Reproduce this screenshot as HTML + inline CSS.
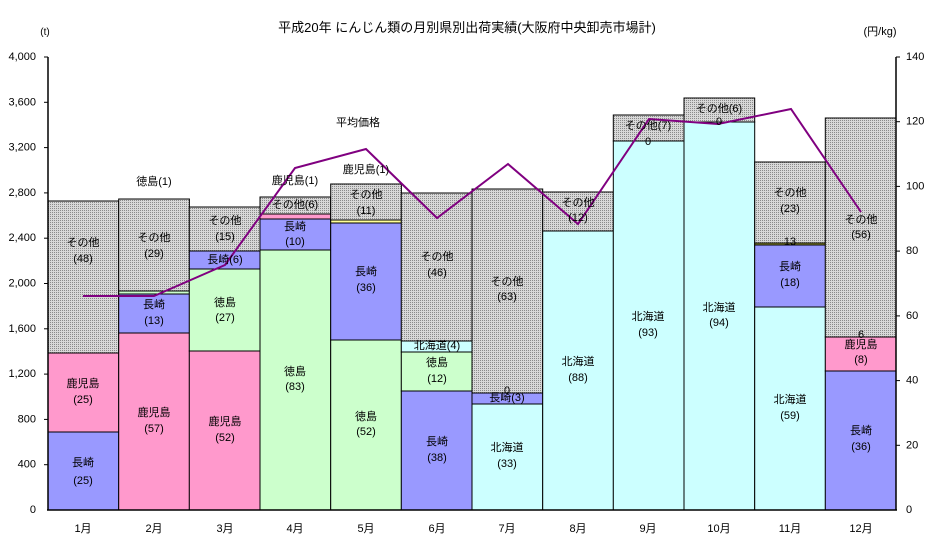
<!DOCTYPE html>
<html><head><meta charset="utf-8"><style>
body{margin:0;background:#fff}
svg{display:block;font-family:"Liberation Sans","Noto Sans CJK JP",sans-serif}
</style></head><body>
<svg width="936" height="547" viewBox="0 0 936 547" xmlns="http://www.w3.org/2000/svg">
<defs>
<pattern id="dot" width="2" height="2" patternUnits="userSpaceOnUse">
<rect width="2" height="2" fill="#d8d8d8"/><rect width="1" height="1" fill="#8a8a8a"/>
</pattern>
</defs>
<g font-size="12" fill="#000">
<text x="467" y="32" text-anchor="middle" font-size="13">平成20年 にんじん類の月別県別出荷実績(大阪府中央卸売市場計)</text>
<text x="45" y="35" text-anchor="middle" font-size="10">(t)</text>
<text x="880" y="35" text-anchor="middle" font-size="11">(円/kg)</text>
</g>
<g stroke="#000" stroke-width="1">
<!-- 1 -->
<rect x="48" y="432" width="70.7" height="78" fill="#9999ff"/>
<rect x="48" y="353" width="70.7" height="79" fill="#ff99cc"/>
<rect x="48" y="201" width="70.7" height="152" fill="url(#dot)"/>
<!-- 2 -->
<rect x="118.7" y="333" width="70.7" height="177" fill="#ff99cc"/>
<rect x="118.7" y="294" width="70.7" height="39" fill="#9999ff"/>
<rect x="118.7" y="291" width="70.7" height="3" fill="#ccffcc"/>
<rect x="118.7" y="199" width="70.7" height="92" fill="url(#dot)"/>
<!-- 3 -->
<rect x="189.3" y="351" width="70.7" height="159" fill="#ff99cc"/>
<rect x="189.3" y="269" width="70.7" height="82" fill="#ccffcc"/>
<rect x="189.3" y="251" width="70.7" height="18" fill="#9999ff"/>
<rect x="189.3" y="207" width="70.7" height="44" fill="url(#dot)"/>
<!-- 4 -->
<rect x="260" y="250" width="70.7" height="260" fill="#ccffcc"/>
<rect x="260" y="219" width="70.7" height="31" fill="#9999ff"/>
<rect x="260" y="214" width="70.7" height="5" fill="#ff99cc"/>
<rect x="260" y="197" width="70.7" height="17" fill="url(#dot)"/>
<!-- 5 -->
<rect x="330.7" y="340" width="70.7" height="170" fill="#ccffcc"/>
<rect x="330.7" y="223" width="70.7" height="117" fill="#9999ff"/>
<rect x="330.7" y="220" width="70.7" height="3" fill="#ffff99"/>
<rect x="330.7" y="184" width="70.7" height="36" fill="url(#dot)"/>
<!-- 6 -->
<rect x="401.3" y="391" width="70.7" height="119" fill="#9999ff"/>
<rect x="401.3" y="352" width="70.7" height="39" fill="#ccffcc"/>
<rect x="401.3" y="341" width="70.7" height="11" fill="#ccffff"/>
<rect x="401.3" y="193" width="70.7" height="148" fill="url(#dot)"/>
<!-- 7 -->
<rect x="472" y="404" width="70.7" height="106" fill="#ccffff"/>
<rect x="472" y="393" width="70.7" height="11" fill="#9999ff"/>
<rect x="472" y="189" width="70.7" height="204" fill="url(#dot)"/>
<!-- 8 -->
<rect x="542.7" y="231" width="70.7" height="279" fill="#ccffff"/>
<rect x="542.7" y="192" width="70.7" height="39" fill="url(#dot)"/>
<!-- 9 -->
<rect x="613.3" y="141" width="70.7" height="369" fill="#ccffff"/>
<rect x="613.3" y="115" width="70.7" height="26" fill="url(#dot)"/>
<!-- 10 -->
<rect x="684" y="122" width="70.7" height="388" fill="#ccffff"/>
<rect x="684" y="98" width="70.7" height="24" fill="url(#dot)"/>
<!-- 11 -->
<rect x="754.7" y="307" width="70.7" height="203" fill="#ccffff"/>
<rect x="754.7" y="245" width="70.7" height="62" fill="#9999ff"/>
<rect x="754.7" y="243" width="70.7" height="2" fill="#999933"/>
<rect x="754.7" y="162" width="70.7" height="81" fill="url(#dot)"/>
<!-- 12 -->
<rect x="825.3" y="371" width="70.7" height="139" fill="#9999ff"/>
<rect x="825.3" y="337" width="70.7" height="34" fill="#ff99cc"/>
<rect x="825.3" y="118" width="70.7" height="219" fill="url(#dot)"/>
</g>
<!-- axes -->
<g stroke="#000" stroke-width="1.5" fill="none">
<line x1="48" y1="57" x2="48" y2="510"/>
<line x1="896" y1="57" x2="896" y2="510"/>
<line x1="47" y1="510" x2="897" y2="510"/>
</g>
<g stroke="#000" stroke-width="1">
<line x1="44" y1="57" x2="48" y2="57"/><line x1="44" y1="102.3" x2="48" y2="102.3"/><line x1="44" y1="147.6" x2="48" y2="147.6"/><line x1="44" y1="192.9" x2="48" y2="192.9"/><line x1="44" y1="238.2" x2="48" y2="238.2"/><line x1="44" y1="283.5" x2="48" y2="283.5"/><line x1="44" y1="328.8" x2="48" y2="328.8"/><line x1="44" y1="374.1" x2="48" y2="374.1"/><line x1="44" y1="419.4" x2="48" y2="419.4"/><line x1="44" y1="464.7" x2="48" y2="464.7"/>
<line x1="896" y1="57" x2="900" y2="57"/><line x1="896" y1="121.7" x2="900" y2="121.7"/><line x1="896" y1="186.4" x2="900" y2="186.4"/><line x1="896" y1="251.1" x2="900" y2="251.1"/><line x1="896" y1="315.9" x2="900" y2="315.9"/><line x1="896" y1="380.6" x2="900" y2="380.6"/><line x1="896" y1="445.3" x2="900" y2="445.3"/>
</g>
<g font-size="11" text-anchor="end" dominant-baseline="central">
<text x="36" y="57">4,000</text><text x="36" y="102.3">3,600</text><text x="36" y="147.6">3,200</text><text x="36" y="192.9">2,800</text><text x="36" y="238.2">2,400</text><text x="36" y="283.5">2,000</text><text x="36" y="328.8">1,600</text><text x="36" y="374.1">1,200</text><text x="36" y="419.4">800</text><text x="36" y="464.7">400</text><text x="36" y="510">0</text>
</g>
<g font-size="11" text-anchor="start" dominant-baseline="central">
<text x="906" y="57">140</text><text x="906" y="121.7">120</text><text x="906" y="186.4">100</text><text x="906" y="251.1">80</text><text x="906" y="315.9">60</text><text x="906" y="380.6">40</text><text x="906" y="445.3">20</text><text x="906" y="510">0</text>
</g>
<g font-size="11" text-anchor="middle" dominant-baseline="central">
<text x="83" y="529">1月</text><text x="154" y="529">2月</text><text x="225" y="529">3月</text><text x="295" y="529">4月</text><text x="366" y="529">5月</text><text x="437" y="529">6月</text><text x="507" y="529">7月</text><text x="578" y="529">8月</text><text x="648" y="529">9月</text><text x="719" y="529">10月</text><text x="790" y="529">11月</text><text x="861" y="529">12月</text>
</g>
<polyline fill="none" stroke="#800080" stroke-width="2" points="83,296 154,296 225,265 295,168 366,149 437,218 508,164 578,224 649,119 718,124 791,109 861,212"/>
<g font-size="11" text-anchor="middle" dominant-baseline="central">
<text x="358" y="123">平均価格</text>
<text x="83" y="243">その他</text><text x="83" y="259">(48)</text>
<text x="83" y="384">鹿児島</text><text x="83" y="400">(25)</text>
<text x="83" y="463">長崎</text><text x="83" y="481">(25)</text>
<text x="154" y="182">徳島(1)</text>
<text x="154" y="238">その他</text><text x="154" y="254">(29)</text>
<text x="154" y="305">長崎</text><text x="154" y="321">(13)</text>
<text x="154" y="413">鹿児島</text><text x="154" y="429">(57)</text>
<text x="225" y="221">その他</text><text x="225" y="237">(15)</text>
<text x="225" y="260">長崎(6)</text>
<text x="225" y="303">徳島</text><text x="225" y="318">(27)</text>
<text x="225" y="422">鹿児島</text><text x="225" y="438">(52)</text>
<text x="295" y="181">鹿児島(1)</text>
<text x="295" y="205">その他(6)</text>
<text x="295" y="227">長崎</text><text x="295" y="242">(10)</text>
<text x="295" y="372">徳島</text><text x="295" y="387">(83)</text>
<text x="366" y="170">鹿児島(1)</text>
<text x="366" y="195">その他</text><text x="366" y="211">(11)</text>
<text x="366" y="272">長崎</text><text x="366" y="288">(36)</text>
<text x="366" y="417">徳島</text><text x="366" y="432">(52)</text>
<text x="437" y="257">その他</text><text x="437" y="273">(46)</text>
<text x="437" y="346">北海道(4)</text>
<text x="437" y="363">徳島</text><text x="437" y="379">(12)</text>
<text x="437" y="442">長崎</text><text x="437" y="458">(38)</text>
<text x="507" y="282">その他</text><text x="507" y="297">(63)</text>
<text x="507" y="391">0</text>
<text x="507" y="398">長崎(3)</text>
<text x="507" y="448">北海道</text><text x="507" y="464">(33)</text>
<text x="578" y="203">その他</text><text x="578" y="218">(12)</text>
<text x="578" y="362">北海道</text><text x="578" y="378">(88)</text>
<text x="648" y="126">その他(7)</text>
<text x="648" y="142">0</text>
<text x="648" y="317">北海道</text><text x="648" y="333">(93)</text>
<text x="719" y="109">その他(6)</text>
<text x="719" y="122">0</text>
<text x="719" y="308">北海道</text><text x="719" y="323">(94)</text>
<text x="790" y="193">その他</text><text x="790" y="209">(23)</text>
<text x="790" y="242">13</text>
<text x="790" y="267">長崎</text><text x="790" y="283">(18)</text>
<text x="790" y="400">北海道</text><text x="790" y="416">(59)</text>
<text x="861" y="220">その他</text><text x="861" y="235">(56)</text>
<text x="861" y="335">6</text>
<text x="861" y="345">鹿児島</text><text x="861" y="360">(8)</text>
<text x="861" y="431">長崎</text><text x="861" y="447">(36)</text>
</g>
</svg>
</body></html>
